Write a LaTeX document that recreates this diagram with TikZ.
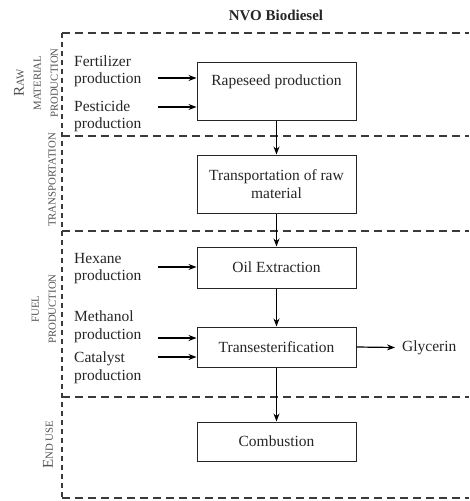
\documentclass[tikz,border=0pt]{standalone}
\usepackage{fontspec}
\setmainfont{Liberation Serif}
\usetikzlibrary{arrows.meta}
\definecolor{ink}{HTML}{262626}
\definecolor{zone}{HTML}{3A3A3A}
\definecolor{side}{HTML}{505050}
\begin{document}
\begin{tikzpicture}[x=1pt,y=-1pt,
  every node/.style={font=\fontsize{15.5}{17.5}\selectfont, text=ink, inner sep=0pt},
  stage/.style={draw=ink, line width=1pt, minimum width=159pt, align=center},
  flow/.style={draw=black, line width=1.2pt, -{Stealth[length=8pt,width=6pt]}},
  zoneline/.style={draw=zone, line width=1.8pt, dash pattern=on 8pt off 5pt},
  zonevert/.style={draw=zone, line width=1.8pt, dash pattern=on 5pt off 4pt},
  input/.style={anchor=west, align=left},
  sidelabel/.style={rotate=90, text=side, align=center, font=\fontsize{10.8}{17}\selectfont}
]
\useasboundingbox (0,0) rectangle (469,501);

% title
\node[font=\bfseries\fontsize{15}{17}\selectfont] (title) at (276,15) {NVO Biodiesel};

% zone boundaries
\foreach \yy in {33,136,231,397,498}
  \draw[zoneline] (62,\yy) -- (469,\yy);
\draw[zonevert] (62,33) -- (62,498);

% zone labels
\node[sidelabel] (lraw) at (36,83) {{\fontsize{15}{17}\selectfont R}AW\\MATERIAL\\PRODUCTION};
\node[sidelabel] (ltrans) at (52,180) {TRANSPORTATION};
\node[sidelabel] (lfuel) at (44,309) {FUEL\\PRODUCTION};
\node[sidelabel] (lend) at (48,445) {{\fontsize{15}{17}\selectfont E}ND USE};

% main chain
\node[stage, minimum height=58pt] (rape) at (276.5,91) {Rapeseed production\\\strut};
\node[stage, minimum height=58pt] (transp) at (276.5,184) {Transportation of raw\\material};
\node[stage, minimum height=41pt] (oil) at (276.5,267.5) {Oil Extraction};
\node[stage, minimum height=40pt] (ester) at (276.5,347) {Transesterification};
\node[stage, minimum height=39pt] (comb) at (276.5,441.5) {Combustion};

\draw[flow] (rape) -- (transp);
\draw[flow] (transp) -- (oil);
\draw[flow] (oil) -- (ester);
\draw[flow] (ester) -- (comb);

% inputs
\node[input] (fert) at (74,71.5) {Fertilizer\\production};
\node[input] (pest) at (74,116.5) {Pesticide\\production};
\node[input] (hex) at (74,268.5) {Hexane\\production};
\node[input] (meth) at (74,327) {Methanol\\production};
\node[input] (cat) at (74,368) {Catalyst\\production};

\coordinate (fertin) at (158,78);
\coordinate (pestin) at (158,107);
\coordinate (hexin) at (158,267);
\coordinate (methin) at (158,338);
\coordinate (catin) at (158,357);
\draw[flow] (fertin) -- (fertin -| rape.west);
\draw[flow] (pestin) -- (pestin -| rape.west);
\draw[flow] (hexin) -- (hexin -| oil.west);
\draw[flow] (methin) -- (methin -| ester.west);
\draw[flow] (catin) -- (catin -| ester.west);

% output
\node[anchor=west] (gly) at (402,347.5) {Glycerin};
\draw[flow] (ester.east) -- ([xshift=-7pt]gly.west);
\end{tikzpicture}
\end{document}
